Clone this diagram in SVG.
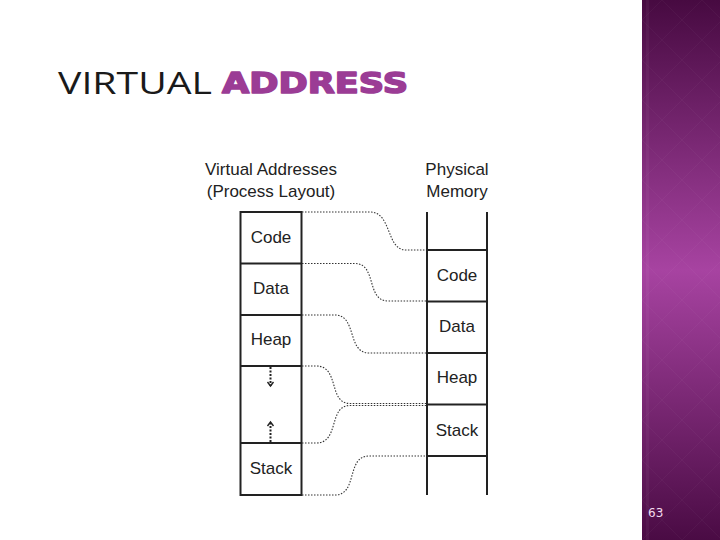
<svg xmlns="http://www.w3.org/2000/svg" width="720" height="540" viewBox="0 0 720 540">
  <defs>
    <linearGradient id="panel" x1="0" y1="0" x2="0" y2="1">
      <stop offset="0" stop-color="#470a41"/>
      <stop offset="0.5" stop-color="#a743a1"/>
      <stop offset="1" stop-color="#4a0b44"/>
    </linearGradient>
    <pattern id="diam" x="642" y="0" width="40" height="40" patternUnits="userSpaceOnUse">
      <path d="M20,0 L40,20 L20,40 L0,20 Z" fill="none" stroke="#ffffff" stroke-opacity="0.03" stroke-width="1"/>
    </pattern>
    <style>
      .lbl { font-family: "Liberation Sans", Arial, sans-serif; font-size: 17px; fill: #222; text-anchor: middle; }
      .box { fill: none; stroke: #222; stroke-width: 2; }
      .div { stroke: #222; stroke-width: 2; }
      .dot { fill: none; stroke: #333; stroke-width: 1.1; stroke-dasharray: 1.5 1.5; }
      .arr { fill: none; stroke: #222; stroke-width: 2; stroke-dasharray: 2 1.5; }
      .head { fill: none; stroke: #222; stroke-width: 1.4; }
    </style>
  </defs>
  <rect width="720" height="540" fill="#ffffff"/>
  <g id="panel-bg">
    <rect x="642" y="0" width="78" height="540" fill="url(#panel)"/>
    <rect x="642" y="0" width="78" height="540" fill="url(#diam)"/>
    <rect x="646" y="0" width="3" height="540" fill="#ffffff" fill-opacity="0.04"/>
    <text x="648" y="517" font-family="'DejaVu Sans', sans-serif" font-size="12" fill="#f3ddf0">63</text>
  </g>
  <g id="title">
    <text x="58" y="94" font-family="'Open Sans', sans-serif" font-size="31" fill="#1a1a1a" textLength="154" lengthAdjust="spacingAndGlyphs">VIRTUAL</text>
    <text x="222" y="93" font-family="'DejaVu Sans', sans-serif" font-weight="bold" font-size="29" fill="#9b3c95" stroke="#9b3c95" stroke-width="1.6" stroke-linejoin="round" textLength="186" lengthAdjust="spacingAndGlyphs">ADDRESS</text>
  </g>
  <g id="headers">
    <text class="lbl" x="271" y="175">Virtual Addresses</text>
    <text class="lbl" x="271" y="197">(Process Layout)</text>
    <text class="lbl" x="457" y="175">Physical</text>
    <text class="lbl" x="457" y="197">Memory</text>
  </g>
  <g id="virtual-layout">
    <rect class="box" x="240.5" y="212" width="61" height="283"/>
    <line class="div" x1="240.5" y1="263.5" x2="301.5" y2="263.5"/>
    <line class="div" x1="240.5" y1="315" x2="301.5" y2="315"/>
    <line class="div" x1="240.5" y1="366" x2="301.5" y2="366"/>
    <line class="div" x1="240.5" y1="443" x2="301.5" y2="443"/>
    <g id="v-code"><text class="lbl" x="271" y="243">Code</text></g>
    <g id="v-data"><text class="lbl" x="271" y="294">Data</text></g>
    <g id="v-heap"><text class="lbl" x="271" y="345">Heap</text></g>
    <g id="v-stack"><text class="lbl" x="271" y="474">Stack</text></g>
    <g id="v-grow">
      <line class="arr" x1="270.5" y1="367" x2="270.5" y2="386"/>
      <polyline class="head" points="267.5,382 270.5,386 273.5,382"/>
      <line class="arr" x1="270.5" y1="442" x2="270.5" y2="423"/>
      <polyline class="head" points="267.5,426 270.5,422 273.5,426"/>
    </g>
  </g>
  <g id="physical-memory">
    <line class="div" x1="427" y1="212" x2="427" y2="495"/>
    <line class="div" x1="487" y1="212" x2="487" y2="495"/>
    <line class="div" x1="427" y1="250" x2="487" y2="250"/>
    <line class="div" x1="427" y1="301.5" x2="487" y2="301.5"/>
    <line class="div" x1="427" y1="353" x2="487" y2="353"/>
    <line class="div" x1="427" y1="404.5" x2="487" y2="404.5"/>
    <line class="div" x1="427" y1="456" x2="487" y2="456"/>
    <g id="p-code"><text class="lbl" x="457" y="281">Code</text></g>
    <g id="p-data"><text class="lbl" x="457" y="332">Data</text></g>
    <g id="p-heap"><text class="lbl" x="457" y="383">Heap</text></g>
    <g id="p-stack"><text class="lbl" x="457" y="436">Stack</text></g>
  </g>
  <g id="connectors">
    <path class="dot" d="M302,212 H370 C392,212 386,250 406,250 H426"/>
    <path class="dot" d="M302,263.5 H355 C377,263.5 366,301 388,301 H426"/>
    <path class="dot" d="M302,315 H335 C357,315 347,353 369,353 H426"/>
    <path class="dot" d="M302,366 H316 C340,366 328,403.5 350,403.5 H426"/>
    <path class="dot" d="M302,443 H316 C340,443 328,405.5 350,405.5 H426"/>
    <path class="dot" d="M302,495 H335 C358,495 346,456 369,456 H426"/>
  </g>
</svg>
